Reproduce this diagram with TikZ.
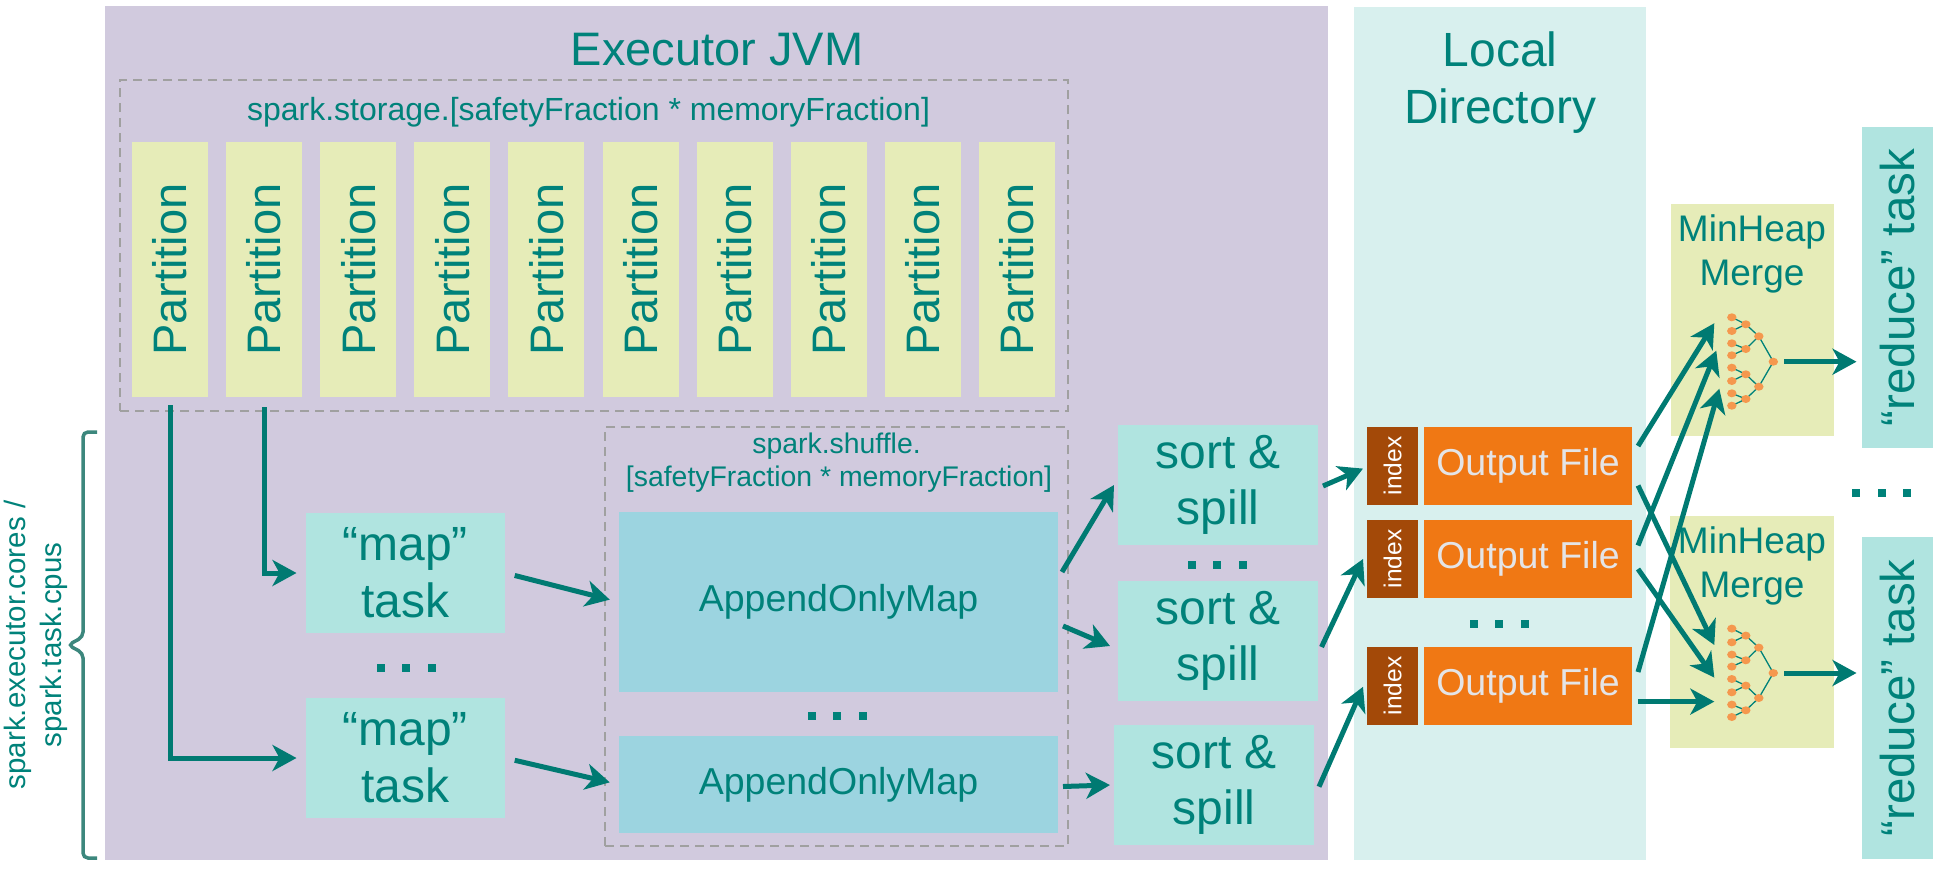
\documentclass[tikz,border=0pt]{standalone}
\usepackage{fontspec}
\setmainfont{Liberation Sans}
\usetikzlibrary{arrows.meta,calc}
\definecolor{purplebg}{RGB}{209,202,222}
\definecolor{partfill}{RGB}{230,236,184}
\definecolor{tealtxt}{RGB}{0,130,122}
\definecolor{taskfill}{RGB}{176,228,224}
\definecolor{aomfill}{RGB}{156,212,224}
\definecolor{localfill}{RGB}{216,240,238}
\definecolor{ofill}{RGB}{240,120,20}
\definecolor{idxfill}{RGB}{163,73,8}
\definecolor{offtxt}{RGB}{228,228,230}
\definecolor{heapdot}{RGB}{245,152,78}
\definecolor{dashgray}{RGB}{160,160,160}
\definecolor{arrowc}{RGB}{0,122,114}
\definecolor{bracketc}{RGB}{60,135,125}
\newcommand\fsz[2]{\fontsize{#1pt}{#2pt}\selectfont}
\newcommand\tripledots[2]{%
  \foreach \dd in {-25.5,0,25.5}{\fill[tealtxt] ({#1+\dd-4},{#2-4}) rectangle ++(8,8);}}
\newcommand\heaptree[3]{%
  \coordinate (#3) at (#1,#2);
  \begin{scope}[shift={(#1,#2)}]
    \foreach \ly/\py in {-44.4/-37.4,-30.7/-37.4,-18.4/-12.7,-6.4/-12.7,6/12.6,19.3/12.6,31.6/37.3,44/37.3}
      {\draw[treeline] (-41.5,\ly) -- (-27.5,\py);}
    \foreach \py/\qy in {-37.4/-25.4,-12.7/-25.4,12.6/25,37.3/25}
      {\draw[treeline] (-27.5,\py) -- (-14.5,\qy);}
    \draw[treeline] (-14.5,-25.4) -- (0,0) -- (-14.5,25);
    \foreach \ly in {-44.4,-30.7,-18.4,-6.4,6,19.3,31.6,44}
      {\fill[heapdot] (-41.5,\ly) ellipse [x radius=4.7pt, y radius=4pt];}
    \foreach \py in {-37.4,-12.7,12.6,37.3}
      {\fill[heapdot] (-27.5,\py) ellipse [x radius=4.7pt, y radius=4pt];}
    \foreach \qy in {-25.4,25}
      {\fill[heapdot] (-14.5,\qy) ellipse [x radius=4.7pt, y radius=4pt];}
    \fill[heapdot] (0,0) ellipse [x radius=4.7pt, y radius=4pt];
  \end{scope}}
\begin{document}
\begin{tikzpicture}[x=1pt,y=-1pt,
  box/.style={rectangle, inner sep=0pt, outer sep=0pt, anchor=north west, align=center, text=tealtxt},
  arr/.style={draw=arrowc, line width=5pt, -{Stealth[length=24pt,width=26pt,inset=7pt]}},
  dashbox/.style={rectangle, draw=dashgray, line width=2pt, dash pattern=on 9pt off 6pt, inner sep=0pt, outer sep=0pt, anchor=north west},
  treeline/.style={draw=tealtxt, line width=1.3pt},
  lbl/.style={text=tealtxt, inner sep=0pt}]

\useasboundingbox (0,0) rectangle (1938,868);

% containers
\node[box, fill=purplebg, minimum width=1223.5pt, minimum height=854pt] (jvm) at (104.5,6) {};
\node[box, fill=localfill, minimum width=292.5pt, minimum height=853pt] (local) at (1353.5,7) {};
\node[lbl, anchor=base, font=\fsz{47}{56}] (jvmtitle) at (717,65.7) {Executor JVM};
\node[lbl, align=center, font=\fsz{48}{57}] (localtitle) at (1500,83) {Local\\Directory};

% storage
\node[dashbox, minimum width=948pt, minimum height=331pt] (storage) at (120,80) {};
\node[lbl, anchor=base, font=\fsz{32}{38}] (storagetxt) at (588.5,120) {spark.storage.[safetyFraction * memoryFraction]};
\foreach \i in {1,...,10}
  {\node[box, fill=partfill, minimum width=76pt, minimum height=255pt, font=\fsz{47}{56}] (p\i) at ({132+94.1*(\i-1)},142) {\rotatebox{90}{Partition}};}

% bracket
\draw[draw=bracketc, line width=3.5pt, rounded corners=5pt] (97,432) -- (83,432) -- (83,637) -- (68,645) -- (83,653) -- (83,858) -- (97,858);
\node[lbl, rotate=90, align=center, font=\fsz{29.5}{35.5}] (corestxt) at (36,645) {spark.executor.cores /\\spark.task.cpus};

% map tasks
\node[box, fill=taskfill, minimum width=199.5pt, minimum height=120pt, font=\fsz{48}{57}] (map1) at (305.5,513) {“map”\\task};
\node[box, fill=taskfill, minimum width=199.5pt, minimum height=120pt, font=\fsz{48}{57}] (map2) at (305.5,698) {“map”\\task};
\tripledots{406}{668}

% shuffle
\node[dashbox, minimum width=463pt, minimum height=419pt] (shuffle) at (605,427) {};
\node[lbl, anchor=base, font=\fsz{28.4}{33}] (shuf1) at (836.5,453) {spark.shuffle.};
\node[lbl, anchor=base, font=\fsz{28.4}{33}] (shuf2) at (839,486) {[safetyFraction * memoryFraction]};
\node[box, fill=aomfill, minimum width=439pt, minimum height=180pt, font=\fsz{37.5}{44}] (aom1) at (619,512) {AppendOnlyMap};
\node[box, fill=aomfill, minimum width=439pt, minimum height=97pt, font=\fsz{37.5}{44}] (aom2) at (619,736) {AppendOnlyMap};
\tripledots{837}{716}

% sort & spill
\node[box, fill=taskfill, minimum width=200pt, minimum height=120pt, font=\fsz{48}{56}] (ss1) at (1118,425) {sort \&\\spill};
\node[box, fill=taskfill, minimum width=200pt, minimum height=120pt, font=\fsz{48}{56}] (ss2) at (1118,581) {sort \&\\spill};
\node[box, fill=taskfill, minimum width=200pt, minimum height=120pt, font=\fsz{48}{56}] (ss3) at (1114,725) {sort \&\\spill};
\tripledots{1217}{565}

% index / output files
\foreach \k/\yy in {1/427,2/520,3/647}{
  \node[box, fill=idxfill, text=white, minimum width=51pt, minimum height=78pt, font=\fsz{24.5}{29}] (idx\k) at (1367,\yy) {\rotatebox{90}{index}};
  \node[box, fill=ofill, text=offtxt, minimum width=208pt, minimum height=78pt, font=\fsz{37.5}{44}] (of\k) at (1424,\yy) {Output File};
}
\tripledots{1499}{624}

% heaps
\node[box, fill=partfill, minimum width=163pt, minimum height=232pt] (heap1) at (1671,204) {};
\node[box, fill=partfill, minimum width=164pt, minimum height=232pt] (heap2) at (1670,516) {};
\node[lbl, align=center, font=\fsz{37}{44}] (heap1txt) at (1752,254) {MinHeap\\Merge};
\node[lbl, align=center, font=\fsz{37}{44}] (heap2txt) at (1752,565.5) {MinHeap\\Merge};
\heaptree{1773.3}{361.7}{root1}
\heaptree{1773.3}{673}{root2}

% reduce tasks
\node[box, fill=taskfill, minimum width=71pt, minimum height=321pt, font=\fsz{47.5}{56}] (red1) at (1862,127) {\rotatebox{90}{“reduce” task}};
\node[box, fill=taskfill, minimum width=71pt, minimum height=322pt, font=\fsz{47.5}{56}] (red2) at (1862,537) {\rotatebox{90}{“reduce” task}};
\tripledots{1881.5}{492.5}

% arrow end points at the heap trees
\coordinate (h1a) at ($(root1)+(-59,-38.5)$);
\coordinate (h1b) at ($(root1)+(-57,-11)$);
\coordinate (h1c) at ($(root1)+(-54,27)$);
\coordinate (h2a) at ($(root2)+(-59,-28)$);
\coordinate (h2b) at ($(root2)+(-59,4.6)$);
\coordinate (h2c) at ($(root2)+(-59,28.6)$);

% connectors
\draw[arr, shorten <=8pt, shorten >=9pt] (p1.south) |- (map2.west);
\draw[arr, shorten <=10pt, shorten >=9pt] (p2.south) |- (map1.west);
\draw[arr, shorten <=10pt, shorten >=9.5pt] (map1.east) -- (aom1.west);
\draw[arr, shorten <=10pt, shorten >=9.5pt] (map2.east) -- (aom2.west);
\draw[arr] ($(aom1.east)+(4,-30)$) -- ($(ss1.west)+(-4,0)$);
\draw[arr] ($(aom1.east)+(5,24)$) -- ($(ss2.west)+(-8,5)$);
\draw[arr] ($(aom2.east)+(5,2)$) -- ($(ss3.west)+(-4,0)$);
\draw[arr] ($(ss1.east)+(5,1)$) -- ($(idx1.west)+(-4,2.6)$);
\draw[arr] ($(ss2.east)+(3.5,6)$) -- ($(idx2.west)+(-4,0)$);
\draw[arr] ($(ss3.east)+(5,1.7)$) -- ($(idx3.west)+(-4,0.8)$);
\draw[arr] ($(of1.east)+(6,-20)$) -- (h1a);
\draw[arr] ($(of1.east)+(6,19.5)$) -- (h2a);
\draw[arr] ($(of2.east)+(6,-13.5)$) -- (h1b);
\draw[arr] ($(of2.east)+(6,10)$) -- (h2b);
\draw[arr] ($(of3.east)+(6,-14)$) -- (h1c);
\draw[arr] ($(of3.east)+(6,15.6)$) -- (h2c);
\draw[arr, shorten <=11pt, shorten >=5.5pt] (root1) -- (root1 -| red1.west);
\draw[arr, shorten <=11pt, shorten >=5.5pt] (root2) -- (root2 -| red2.west);
\end{tikzpicture}
\end{document}
